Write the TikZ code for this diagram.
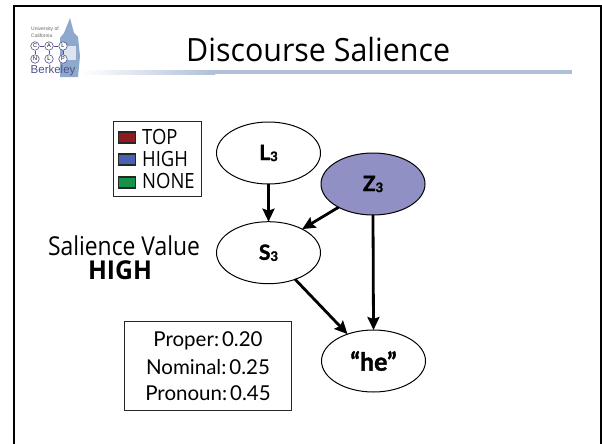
\documentclass[tikz,border=0pt]{standalone}
\usepackage{fontspec}
\setmainfont{Lato}
\newfontfamily\tahomaish{Open Sans}
\newfontfamily\tahomatitle[FakeStretch=0.95]{Open Sans}
\newfontfamily\tahomanarrow[FakeStretch=0.88]{Open Sans}
\newfontfamily\heavyfont[BoldFeatures={FakeBold=1.6}]{Lato}
\newfontfamily\logofont{Liberation Sans}
\usetikzlibrary{shapes.geometric,arrows.meta}
\definecolor{ruleblue}{HTML}{AFC0D8}
\definecolor{towerblue}{HTML}{8FA9CC}
\definecolor{zfill}{HTML}{9090C4}
\definecolor{topc}{HTML}{8F1A1F}
\definecolor{highc}{HTML}{4A62B0}
\definecolor{nonec}{HTML}{16924A}
\definecolor{logotext}{HTML}{50508C}
\tikzset{
  x=1pt,y=-1pt,
  bn/.style={draw=black,line width=1pt,fill=white,ellipse,inner sep=0pt,outer sep=0pt,minimum width=104pt,minimum height=62pt,font=\heavyfont\bfseries\fontsize{21}{22}\selectfont},
  conn/.style={line width=2.8pt,-{Stealth[length=13pt,width=12pt,inset=2pt]}},
  legendtext/.style={anchor=west,inner sep=0pt,font=\tahomanarrow\fontsize{21}{22}\selectfont},
  swatch/.style={draw=black!85,line width=1.2pt,inner sep=0pt,minimum width=17pt,minimum height=11pt},
  logocirc/.style={circle,draw=logotext,line width=.6pt,fill=white,inner sep=0pt,minimum size=8.5pt,font=\logofont\fontsize{5.5}{6}\selectfont},
  logoline/.style={anchor=west,inner sep=0pt,font=\logofont\fontsize{5}{6}\selectfont,text=black!60},
  plainbox/.style={draw=black!85,line width=1.5pt,fill=white,inner sep=0pt},
  cpttext/.style={inner sep=0pt,font=\fontsize{20.5}{22}\selectfont}
}
\newcommand{\subthree}{\raisebox{-1pt}{\fontsize{13}{14}\selectfont 3}}
\begin{document}
\begin{tikzpicture}
\useasboundingbox (0,0) rectangle (602,444);
\fill[white] (0,0) rectangle (602,444);
% frame
\draw[line width=2pt,black] (13.5,444) -- (13.5,6.5) -- (601,6.5) -- (601,444);
% title rule
\shade[left color=white,right color=ruleblue] (80,70) rectangle (215,74);
\fill[ruleblue] (215,70) rectangle (572,74);
% logo tower
\fill[towerblue] (70,18) -- (74,33) -- (78,37) -- (80,56) -- (78,77) -- (60,77) -- (60,38) -- (64,33) -- cycle;
\fill[white!70!towerblue] (64,46) rectangle (76,60);
\node[logoline] (uni) at (31,29) {University of};
\node[logoline] (cal) at (31,36) {California};
\node[logocirc] (c1) at (35,46) {C};
\node[logocirc] (c2) at (49,46) {A};
\node[logocirc] (c3) at (63,46) {L};
\node[logocirc] (c4) at (35,59) {N};
\node[logocirc] (c5) at (49,59) {L};
\node[logocirc] (c6) at (63,59) {P};
\draw[logotext,line width=.6pt] (c1)--(c2) (c2)--(c3) (c1)--(c4) (c2)--(c5) (c3)--(c6);
\node[anchor=west,inner sep=0pt,font=\logofont\fontsize{11.5}{12}\selectfont,text=logotext] (berk) at (30.5,71) {Berkeley};
% title
\node[anchor=west,inner sep=0pt,font=\tahomatitle\fontsize{32}{34}\selectfont] (title) at (186,50) {Discourse Salience};
% legend
\node[plainbox,minimum width=88pt,minimum height=75pt] (legend) at (157.5,159) {};
\node[swatch,fill=topc] (s1) at (127,137.5) {};
\node[swatch,fill=highc] (s2) at (127,159.5) {};
\node[swatch,fill=nonec] (s3) at (127,182.5) {};
\node[legendtext] (t1) at (142,137) {TOP};
\node[legendtext] (t2) at (142,159) {HIGH};
\node[legendtext] (t3) at (142,181) {NONE};
% salience
\node[inner sep=0pt,font=\tahomanarrow\fontsize{26}{28}\selectfont] (sal) at (124,246) {Salience Value};
\node[inner sep=0pt,font=\tahomatitle\bfseries\fontsize{26}{28}\selectfont] (high) at (120,270) {HIGH};
% nodes
\node[bn] (L) at (268.5,153) {L\subthree};
\node[bn,fill=zfill] (Z) at (373,184) {Z\subthree};
\node[bn] (S) at (268.5,252.7) {S\subthree};
\node[bn,font=\heavyfont\bfseries\fontsize{25}{26}\selectfont] (he) at (373.5,361) {“he”};
% connectors
\draw[conn] (L.south) -- (S.north);
\draw[conn] (Z.214) -- (S.35);
\draw[conn] (Z.south) -- (he.north);
\draw[conn] (S.-45) -- (he.134);
% cpt
\node[plainbox,minimum width=167pt,minimum height=89pt] (cpt) at (208,366) {};
\node[cpttext] (p1) at (208,341) {Proper:\hspace{3pt}0.20};
\node[cpttext] (p2) at (208,367) {Nominal:\hspace{3pt}0.25};
\node[cpttext] (p3) at (208,393) {Pronoun:\hspace{3pt}0.45};
\end{tikzpicture}
\end{document}
